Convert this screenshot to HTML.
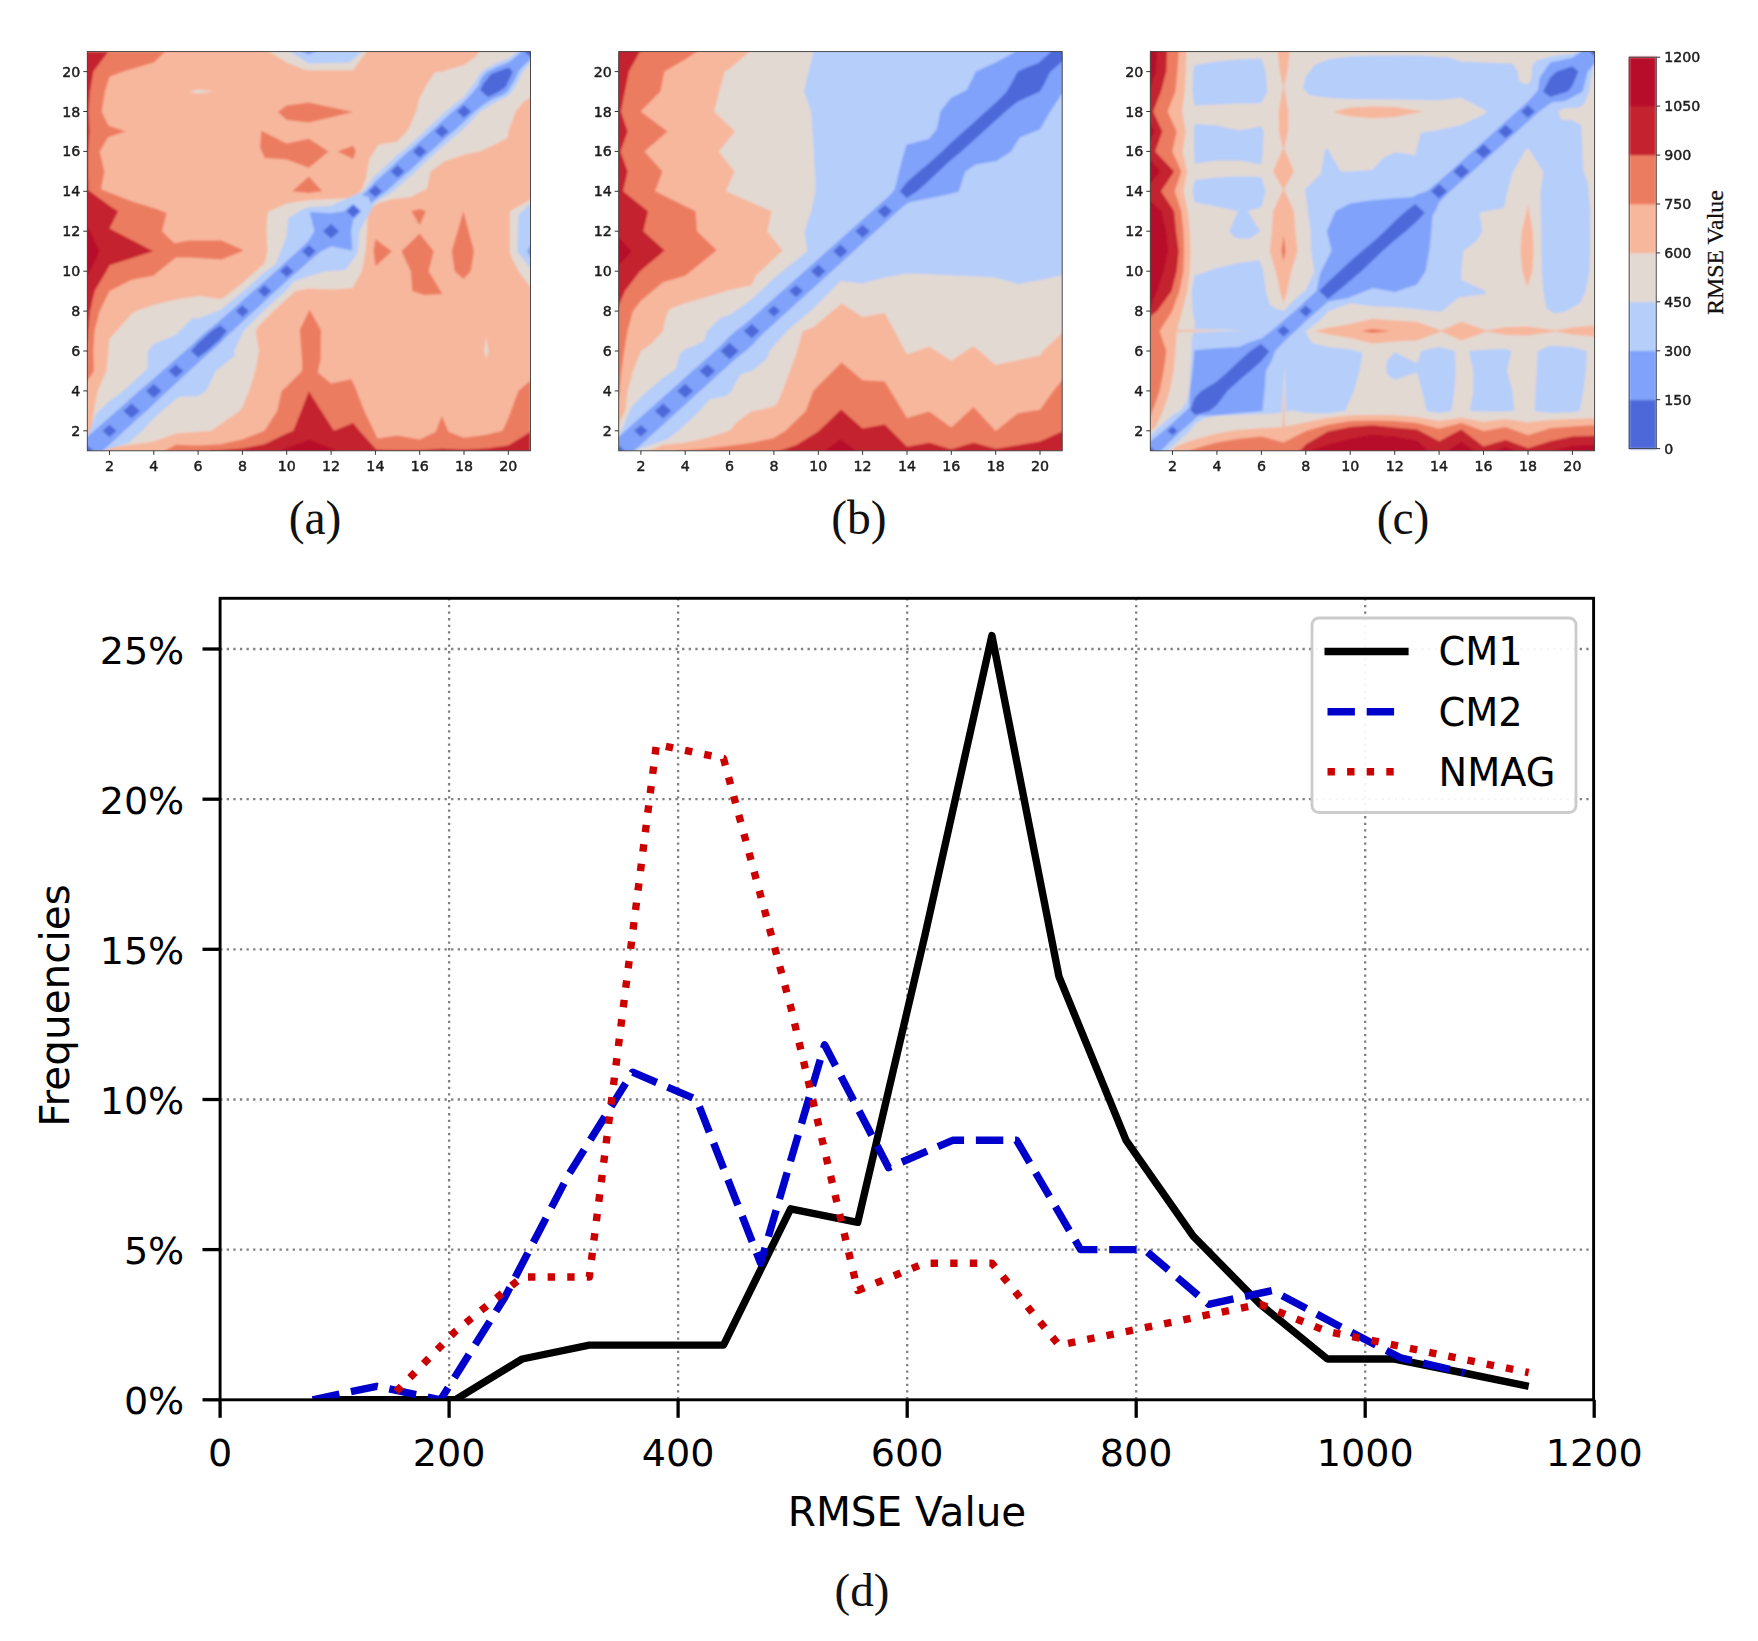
<!DOCTYPE html>
<html><head><meta charset="utf-8"><title>figure</title>
<style>
html,body{margin:0;padding:0;background:#fff;}
svg{display:block;}
.tk{font-family:"DejaVu Sans","Liberation Sans",sans-serif;font-size:14.2px;fill:#1c1c1c;stroke:#1c1c1c;stroke-width:0.45px;}
.cbl{font-family:"Liberation Serif","Times New Roman",serif;font-size:23.8px;fill:#111;stroke:#111;stroke-width:0.3px;}
.cap{font-family:"Liberation Serif","Times New Roman",serif;font-size:47.5px;fill:#111;}
.gr{stroke:#808080;stroke-width:2.3;stroke-dasharray:2.3 4.3;}
.dl{font-family:"DejaVu Sans","Liberation Sans",sans-serif;font-size:40.5px;fill:#000;}
.lg{font-family:"DejaVu Sans","Liberation Sans",sans-serif;font-size:38.3px;fill:#000;}
.cap2{font-family:"Liberation Serif","Times New Roman",serif;font-size:47px;fill:#111;}
.dt{font-family:"DejaVu Sans","Liberation Sans",sans-serif;font-size:38.1px;fill:#000;}
</style></head><body>
<svg width="1758" height="1641" viewBox="0 0 1758 1641">
<defs>
<filter id="soft" x="-2%" y="-2%" width="104%" height="104%"><feGaussianBlur stdDeviation="0.9"/></filter>
<filter id="soft2" x="-5%" y="-5%" width="110%" height="110%"><feGaussianBlur stdDeviation="0.45"/></filter>
</defs>
<rect width="1758" height="1641" fill="#fff"/>
<clipPath id="cpa"><rect x="87.3" y="51.6" width="443.2" height="399.2"/></clipPath>
<g clip-path="url(#cpa)"><g filter="url(#soft)">
<rect x="84.3" y="48.6" width="449.2" height="405.2" fill="#f7b79c"/>
<polygon fill="#ec7c60" points="87.3,51.6 165.3,51.6 153.8,62.6 123.4,71.6 109.5,76.7 105.0,91.5 101.7,111.5 108.4,125.5 125.9,131.4 108.4,137.0 99.7,151.4 104.4,171.4 101.0,189.3 131.6,201.3 157.3,209.3 166.6,212.9 162.0,231.2 174.4,243.2 188.8,240.6 221.6,240.4 244.0,250.6 221.6,259.4 188.8,257.4 175.9,257.4 158.7,271.2 153.6,275.8 131.6,279.7 109.5,291.1 99.7,311.1 94.6,331.0 93.3,351.0 93.9,371.0 87.3,380.9 85.1,380.9 85.1,51.6"/>
<polygon fill="#ec7c60" points="530.5,450.8 530.5,380.5 518.3,390.9 508.3,418.3 502.6,430.8 486.2,434.8 464.0,437.8 448.5,431.8 441.9,416.1 435.7,431.8 419.7,439.6 397.5,435.4 377.6,438.4 364.3,410.9 355.4,387.7 351.4,379.3 331.1,383.5 317.8,372.4 320.6,359.4 320.9,329.8 309.6,309.7 299.8,329.8 302.0,359.4 302.0,371.0 286.7,386.5 281.6,391.1 277.2,410.9 264.6,430.8 242.4,439.6 220.3,444.2 198.1,445.4 175.9,444.8 164.9,450.8 164.9,452.8 530.5,452.8"/>
<polygon fill="#ec7c60" points="277.9,112.1 286.7,105.5 308.9,102.5 353.2,112.1 308.9,122.5 286.7,119.9"/>
<polygon fill="#ec7c60" points="463.4,279.1 470.7,271.2 474.0,251.2 463.4,211.3 451.8,251.2 454.7,271.2"/>
<polygon fill="#ec7c60" points="260.1,147.4 261.3,130.8 286.7,143.4 308.9,138.8 328.6,151.4 308.9,167.8 286.7,159.4 264.6,158.0"/>
<polygon fill="#ec7c60" points="424.1,295.1 442.5,294.1 428.6,271.2 433.7,251.2 419.7,233.4 401.5,251.2 410.8,271.2 412.4,291.1"/>
<polygon fill="#ec7c60" points="337.7,151.4 353.2,145.8 355.9,151.4 353.2,159.0"/>
<polygon fill="#ec7c60" points="419.7,225.3 425.9,211.3 419.7,208.9 411.3,211.3"/>
<polygon fill="#ec7c60" points="292.3,191.3 308.9,176.4 322.2,191.3 308.9,192.9"/>
<polygon fill="#ec7c60" points="375.4,266.2 392.0,251.2 375.4,239.2 373.6,251.2"/>
<polygon fill="#c4222f" points="85.1,51.6 108.4,51.6 93.3,71.6 90.0,91.5 88.4,111.5 89.5,131.4 88.0,151.4 88.0,171.4 88.4,190.3 109.5,205.7 118.1,211.3 109.5,228.6 131.6,240.0 153.1,251.2 109.5,265.2 106.4,271.2 94.6,291.1 90.0,311.1 88.0,331.0 87.3,341.0 85.1,341.0"/>
<polygon fill="#c4222f" points="530.5,452.8 530.5,431.8 508.3,445.4 486.2,448.4 464.0,449.8 441.9,448.8 419.7,450.2 397.5,450.2 376.5,449.8 359.4,430.8 353.2,423.1 333.9,430.8 321.3,410.9 308.9,391.5 293.4,430.8 286.7,433.6 264.6,444.2 242.4,448.4 220.3,450.2 209.2,450.8 209.2,452.8"/>
<polygon fill="#b8112c" points="85.1,225.3 87.3,225.3 99.5,251.2 87.3,277.1 85.1,277.1"/>
<polygon fill="#b8112c" points="337.7,452.8 337.7,450.8 308.9,439.8 280.1,450.8 280.1,452.8"/>
<polygon fill="#e3d9d3" points="189.2,91.5 198.1,89.5 213.6,91.5 198.1,93.5"/>
<polygon fill="#e3d9d3" points="486.2,359.0 488.4,351.0 486.2,337.0 484.0,351.0"/>
<polygon fill="#e3d9d3" points="269.0,49.6 269.0,51.6 286.7,62.4 302.7,69.0 308.9,70.2 353.2,70.2 366.5,51.6 366.5,49.6"/>
<polygon fill="#e3d9d3" points="532.7,287.1 530.5,287.1 518.5,271.2 511.2,256.8 509.9,251.2 509.9,211.3 530.5,199.3 532.7,199.3"/>
<polygon fill="#b6cefa" points="289.6,49.6 289.6,51.6 308.9,63.6 349.5,62.4 362.1,51.6 362.1,49.6"/>
<polygon fill="#b6cefa" points="532.7,268.6 530.5,268.6 517.2,251.2 518.5,214.7 530.5,203.3 532.7,203.3"/>
<polygon fill="#80a2fa" points="302.3,49.6 302.3,51.6 308.9,54.6 315.5,51.6 315.5,49.6"/>
<polygon fill="#80a2fa" points="532.7,257.2 530.5,257.2 527.2,251.2 530.5,245.2 532.7,245.2"/>
<polygon fill="#e3d9d3" points="100.6,452.8 85.1,452.8 85.1,438.8 87.3,438.8 90.6,434.0 93.9,410.9 97.7,390.9 106.4,371.0 108.4,351.0 109.5,339.0 131.6,313.9 136.1,311.1 153.8,305.1 175.9,299.5 198.1,296.1 220.3,299.1 224.7,297.1 242.4,283.1 264.6,263.2 267.5,251.2 266.4,231.2 267.7,212.1 286.7,203.5 308.9,200.1 331.1,198.9 353.2,197.9 356.5,195.5 362.1,188.7 366.5,176.4 369.2,159.4 375.4,149.4 378.3,144.8 397.5,141.6 408.4,129.4 416.4,110.9 419.7,97.5 426.8,84.5 434.8,72.2 441.9,71.6 464.0,65.0 475.1,57.6 479.5,51.6 479.5,49.6 532.7,49.6 532.7,59.6"/>
<polygon fill="#e3d9d3" points="85.1,438.8 85.1,452.8 100.6,452.8 100.6,450.8 105.9,447.8 131.6,444.8 153.8,441.4 175.9,433.6 198.1,431.8 211.4,430.8 239.3,410.9 242.4,406.9 249.1,390.9 255.3,371.0 259.0,351.0 255.7,331.0 257.9,327.0 273.4,311.1 295.6,291.1 308.9,288.5 331.1,289.5 352.3,288.3 361.9,271.2 365.6,251.2 367.0,231.2 368.1,211.3 370.7,208.3 378.3,203.3 392.0,199.3 410.8,196.9 421.9,191.3 427.0,188.7 430.6,171.4 444.1,161.6 464.7,154.4 479.5,151.4 493.9,145.0 507.7,137.8 508.3,131.4 515.7,111.5 523.9,101.5 530.5,97.5 532.7,97.5 532.7,49.6 521.6,49.6"/>
<polygon fill="#b6cefa" points="100.6,452.8 85.1,452.8 85.1,436.8 87.3,436.8 96.2,413.5 109.5,401.3 124.1,390.3 131.6,383.3 147.4,368.4 147.8,351.0 153.8,344.0 175.9,335.0 192.8,317.9 198.1,318.5 220.3,310.1 242.4,292.1 264.6,272.2 275.7,264.2 286.7,236.6 288.1,218.3 302.9,209.3 309.8,206.9 330.2,205.9 343.9,200.1 353.2,195.5 358.8,193.3 363.2,191.3 375.4,175.0 379.8,171.4 397.5,154.6 402.0,151.4 419.7,135.6 424.1,131.4 441.9,114.7 445.2,111.5 464.0,96.5 474.7,82.7 480.4,72.8 486.2,68.2 497.9,62.4 508.3,58.4 515.0,53.6 518.1,51.6 518.1,49.6 532.7,49.6 532.7,59.6"/>
<polygon fill="#b6cefa" points="85.1,438.8 85.1,452.8 102.8,452.8 102.8,450.8 128.7,442.8 142.3,430.8 154.4,417.7 162.2,410.9 178.8,396.7 198.1,396.3 205.9,390.9 215.8,371.0 234.9,355.8 234.2,351.0 243.5,331.0 263.5,311.1 285.6,291.1 294.5,281.1 325.1,271.2 345.5,270.0 355.4,256.6 358.1,250.4 359.2,232.0 365.6,219.7 370.7,211.3 373.2,206.3 375.4,202.3 393.6,191.3 397.5,187.3 416.2,171.4 419.7,167.4 437.2,151.4 441.9,147.4 460.5,131.4 464.0,128.4 480.6,111.5 495.9,101.9 507.0,96.7 512.1,91.5 518.5,80.9 523.0,71.6 528.3,65.6 530.5,62.8 532.7,62.8 532.7,49.6 521.6,49.6"/>
<polygon fill="#80a2fa" points="100.6,452.8 85.1,452.8 85.1,439.2 87.3,439.2 96.6,430.8 109.5,418.9 118.3,410.9 131.6,397.7 139.2,390.9 153.8,379.3 163.1,371.0 175.9,360.4 186.4,351.0 198.1,339.0 207.0,331.0 220.3,321.7 232.0,311.1 242.4,301.1 253.5,291.1 264.6,281.7 276.3,271.2 286.7,261.2 297.8,251.2 308.9,240.2 314.4,231.2 309.8,212.1 331.1,213.3 344.4,211.3 353.2,204.1 361.2,211.3 357.7,215.3"/>
<polygon fill="#80a2fa" points="85.1,438.8 85.1,452.8 100.2,452.8 100.2,450.8 109.5,442.4 122.8,430.8 131.6,422.9 146.2,410.9 153.8,404.1 166.6,390.9 175.9,382.5 187.7,371.0 198.1,361.6 211.4,351.0 220.3,343.0 230.7,331.0 242.4,320.5 253.5,311.1 264.6,301.1 275.0,291.1 286.7,280.5 297.8,271.2 308.9,261.2 321.1,251.2 331.1,246.2 352.3,250.4 351.0,231.2 353.2,219.3 361.2,211.3 353.2,204.1 348.8,207.3"/>
<polygon fill="#80a2fa" points="370.9,203.3 366.5,191.3 375.4,181.5 386.7,171.4 397.5,161.2 408.4,151.4 419.7,141.6 431.0,131.4 441.9,121.3 452.7,111.5 464.0,101.7 472.4,93.1 478.2,85.5 481.7,77.5 486.2,72.2 497.9,66.4 508.3,62.4 517.0,56.6 523.9,51.6 523.9,49.6 532.7,49.6 530.5,59.6"/>
<polygon fill="#80a2fa" points="362.1,195.3 375.4,199.3 386.2,191.3 397.5,181.1 408.8,171.4 419.7,161.6 430.6,151.4 441.9,141.2 453.2,131.4 464.0,121.7 474.9,111.5 484.4,103.9 492.8,98.7 501.7,95.5 507.7,91.5 514.1,80.9 518.5,71.6 525.0,63.8 530.5,57.6 532.7,57.6 532.7,49.6 521.6,51.6"/>
<polygon fill="#4d69d9" points="81.3,450.8 87.3,445.4 93.3,450.8 87.3,456.2"/>
<polygon fill="#4d69d9" points="102.6,430.8 109.5,424.7 116.3,430.8 109.5,437.0"/>
<polygon fill="#4d69d9" points="123.4,410.9 131.6,403.5 139.8,410.9 131.6,418.3"/>
<polygon fill="#4d69d9" points="146.0,390.9 153.8,383.9 161.5,390.9 153.8,397.9"/>
<polygon fill="#4d69d9" points="168.6,371.0 175.9,364.4 183.3,371.0 175.9,377.5"/>
<polygon fill="#4d69d9" points="236.0,311.1 242.4,305.3 248.8,311.1 242.4,316.9"/>
<polygon fill="#4d69d9" points="257.9,291.1 264.6,285.1 271.2,291.1 264.6,297.1"/>
<polygon fill="#4d69d9" points="280.1,271.2 286.7,265.2 293.4,271.2 286.7,277.1"/>
<polygon fill="#4d69d9" points="302.0,251.2 308.9,245.0 315.8,251.2 308.9,257.4"/>
<polygon fill="#4d69d9" points="323.1,231.2 331.1,224.1 339.0,231.2 331.1,238.4"/>
<polygon fill="#4d69d9" points="346.6,211.3 353.2,205.3 359.9,211.3 353.2,217.3"/>
<polygon fill="#4d69d9" points="368.7,191.3 375.4,185.3 382.0,191.3 375.4,197.3"/>
<polygon fill="#4d69d9" points="390.7,171.4 397.5,165.2 404.4,171.4 397.5,177.5"/>
<polygon fill="#4d69d9" points="412.8,151.4 419.7,145.2 426.6,151.4 419.7,157.6"/>
<polygon fill="#4d69d9" points="435.0,131.4 441.9,125.3 448.7,131.4 441.9,137.6"/>
<polygon fill="#4d69d9" points="457.2,111.5 464.0,105.3 470.9,111.5 464.0,117.7"/>
<polygon fill="#4d69d9" points="524.5,51.6 530.5,46.2 536.5,51.6 530.5,57.0"/>
<polygon fill="#4d69d9" points="191.0,351.0 198.1,343.0 211.4,331.0 220.3,325.1 226.9,331.0 220.3,339.0 207.0,351.0 198.1,357.4"/>
<polygon fill="#4d69d9" points="480.0,89.9 484.0,82.7 491.1,74.0 508.3,67.6 512.8,71.6 505.7,87.1 495.9,93.5 488.0,97.1"/>
</g></g>
<rect x="87.3" y="51.6" width="443.2" height="399.2" fill="none" stroke="#3a3a3a" stroke-width="0.9"/>
<g filter="url(#soft2)">
<line x1="109.5" y1="450.8" x2="109.5" y2="454.8" stroke="#333" stroke-width="1"/>
<text x="109.5" y="471.0" class="tk" text-anchor="middle">2</text>
<line x1="83.3" y1="430.8" x2="87.3" y2="430.8" stroke="#333" stroke-width="1"/>
<text x="80.3" y="435.8" class="tk" text-anchor="end">2</text>
<line x1="153.8" y1="450.8" x2="153.8" y2="454.8" stroke="#333" stroke-width="1"/>
<text x="153.8" y="471.0" class="tk" text-anchor="middle">4</text>
<line x1="83.3" y1="390.9" x2="87.3" y2="390.9" stroke="#333" stroke-width="1"/>
<text x="80.3" y="395.9" class="tk" text-anchor="end">4</text>
<line x1="198.1" y1="450.8" x2="198.1" y2="454.8" stroke="#333" stroke-width="1"/>
<text x="198.1" y="471.0" class="tk" text-anchor="middle">6</text>
<line x1="83.3" y1="351.0" x2="87.3" y2="351.0" stroke="#333" stroke-width="1"/>
<text x="80.3" y="356.0" class="tk" text-anchor="end">6</text>
<line x1="242.4" y1="450.8" x2="242.4" y2="454.8" stroke="#333" stroke-width="1"/>
<text x="242.4" y="471.0" class="tk" text-anchor="middle">8</text>
<line x1="83.3" y1="311.1" x2="87.3" y2="311.1" stroke="#333" stroke-width="1"/>
<text x="80.3" y="316.1" class="tk" text-anchor="end">8</text>
<line x1="286.7" y1="450.8" x2="286.7" y2="454.8" stroke="#333" stroke-width="1"/>
<text x="286.7" y="471.0" class="tk" text-anchor="middle">10</text>
<line x1="83.3" y1="271.2" x2="87.3" y2="271.2" stroke="#333" stroke-width="1"/>
<text x="80.3" y="276.2" class="tk" text-anchor="end">10</text>
<line x1="331.1" y1="450.8" x2="331.1" y2="454.8" stroke="#333" stroke-width="1"/>
<text x="331.1" y="471.0" class="tk" text-anchor="middle">12</text>
<line x1="83.3" y1="231.2" x2="87.3" y2="231.2" stroke="#333" stroke-width="1"/>
<text x="80.3" y="236.2" class="tk" text-anchor="end">12</text>
<line x1="375.4" y1="450.8" x2="375.4" y2="454.8" stroke="#333" stroke-width="1"/>
<text x="375.4" y="471.0" class="tk" text-anchor="middle">14</text>
<line x1="83.3" y1="191.3" x2="87.3" y2="191.3" stroke="#333" stroke-width="1"/>
<text x="80.3" y="196.3" class="tk" text-anchor="end">14</text>
<line x1="419.7" y1="450.8" x2="419.7" y2="454.8" stroke="#333" stroke-width="1"/>
<text x="419.7" y="471.0" class="tk" text-anchor="middle">16</text>
<line x1="83.3" y1="151.4" x2="87.3" y2="151.4" stroke="#333" stroke-width="1"/>
<text x="80.3" y="156.4" class="tk" text-anchor="end">16</text>
<line x1="464.0" y1="450.8" x2="464.0" y2="454.8" stroke="#333" stroke-width="1"/>
<text x="464.0" y="471.0" class="tk" text-anchor="middle">18</text>
<line x1="83.3" y1="111.5" x2="87.3" y2="111.5" stroke="#333" stroke-width="1"/>
<text x="80.3" y="116.5" class="tk" text-anchor="end">18</text>
<line x1="508.3" y1="450.8" x2="508.3" y2="454.8" stroke="#333" stroke-width="1"/>
<text x="508.3" y="471.0" class="tk" text-anchor="middle">20</text>
<line x1="83.3" y1="71.6" x2="87.3" y2="71.6" stroke="#333" stroke-width="1"/>
<text x="80.3" y="76.6" class="tk" text-anchor="end">20</text>
</g>
<clipPath id="cpb"><rect x="618.7" y="51.6" width="443.5" height="399.2"/></clipPath>
<g clip-path="url(#cpb)"><g filter="url(#soft)">
<rect x="615.7" y="48.6" width="449.5" height="405.2" fill="#b6cefa"/>
<polygon fill="#e3d9d3" points="616.5,49.6 813.8,49.6 813.8,51.6 808.5,71.6 803.9,91.5 811.2,111.5 812.5,131.4 813.8,151.4 814.9,171.4 815.6,191.3 811.2,211.3 804.5,231.2 807.2,251.2 782.4,271.2 773.9,278.3 751.8,299.3 729.6,315.1 720.7,317.7 707.4,331.0 703.9,341.0 692.3,346.6 685.2,349.0 679.7,354.4 675.9,369.0 662.2,378.5 640.9,396.9 631.1,407.7 623.1,426.8 618.7,436.8 616.5,436.8"/>
<polygon fill="#e3d9d3" points="1064.4,452.8 1064.4,275.2 1062.2,275.2 1040.0,279.9 1017.9,284.1 995.7,277.5 973.5,276.3 951.3,275.2 929.2,274.2 907.0,273.6 884.8,277.5 862.6,283.5 840.5,281.1 818.3,303.5 810.3,311.1 787.0,331.0 769.5,351.0 766.6,359.0 751.8,371.0 740.7,374.2 734.5,384.5 731.8,390.9 725.8,395.9 709.6,399.3 699.0,411.7 678.6,430.8 666.6,439.6 645.3,446.8 634.2,450.8 634.2,452.8"/>
<polygon fill="#f7b79c" points="616.5,49.6 749.5,49.6 749.5,51.6 729.6,69.0 724.7,71.6 719.4,91.5 714.1,111.5 735.1,131.4 718.7,151.4 734.5,171.4 725.8,191.3 771.7,211.3 767.3,231.2 782.4,250.2 756.0,275.8 751.8,285.1 729.6,290.1 707.4,296.7 685.2,303.3 670.8,308.5 668.2,311.1 664.4,323.1 663.1,331.0 650.6,344.4 640.9,351.0 633.1,371.0 627.6,390.9 625.4,410.9 619.8,420.9 618.7,424.9 616.5,424.9"/>
<polygon fill="#f7b79c" points="1064.4,452.8 1064.4,333.0 1062.2,333.0 1042.9,351.0 1040.0,355.4 1017.9,360.2 995.7,365.0 973.5,346.0 951.3,360.8 929.2,346.6 907.0,354.4 884.8,313.1 862.6,317.1 841.6,303.5 813.2,327.2 802.8,331.0 797.2,351.0 789.9,371.0 782.6,390.9 776.8,403.9 773.9,406.3 760.6,409.7 751.8,410.9 736.9,422.1 729.6,430.8 707.4,437.8 685.2,442.8 663.1,444.8 652.0,449.8 647.5,450.8 647.5,452.8"/>
<polygon fill="#ec7c60" points="616.5,49.6 697.0,49.6 697.0,51.6 685.2,59.6 664.4,71.6 660.4,91.5 640.7,111.5 667.5,131.4 644.6,151.4 662.4,171.4 655.1,191.3 695.6,211.3 697.0,231.2 716.7,250.2 685.2,275.8 663.1,282.3 640.9,300.7 632.9,311.1 627.6,331.0 624.2,351.0 621.4,371.0 619.4,390.9 618.7,398.9 616.5,398.9"/>
<polygon fill="#ec7c60" points="1064.4,452.8 1064.4,380.3 1062.2,380.3 1053.3,390.9 1040.0,409.7 1017.9,413.3 995.7,431.0 973.5,406.9 951.3,427.4 929.2,411.5 907.0,418.1 884.8,381.5 862.6,380.3 841.6,362.6 813.2,390.9 805.9,410.9 785.5,430.8 773.9,438.0 751.8,442.8 729.6,445.8 707.4,448.4 685.2,450.2 676.4,450.8 676.4,452.8"/>
<polygon fill="#c4222f" points="616.5,49.6 640.0,49.6 640.0,51.6 628.9,71.6 624.9,91.5 620.9,111.5 627.6,131.4 620.5,151.4 627.6,171.4 623.1,191.3 648.0,211.3 643.3,231.2 664.6,250.6 640.0,271.2 624.9,291.1 619.8,303.1 618.7,307.1 616.5,307.1"/>
<polygon fill="#c4222f" points="1064.4,452.8 1064.4,431.6 1062.2,431.6 1040.0,441.6 1017.9,445.2 995.7,448.8 973.5,442.8 951.3,449.2 929.2,442.8 907.0,446.8 884.8,424.5 862.6,428.6 841.1,409.5 818.3,431.6 796.1,445.2 782.8,449.8 778.4,450.8 778.4,452.8"/>
<polygon fill="#b8112c" points="616.5,237.2 618.7,237.2 631.6,251.2 618.7,265.2 616.5,265.2"/>
<polygon fill="#b8112c" points="856.0,452.8 856.0,450.8 840.5,439.2 824.9,450.8 824.9,452.8"/>
<polygon fill="#80a2fa" points="632.0,452.8 616.5,452.8 616.5,437.8 618.7,437.8 626.5,430.8 640.9,417.9 648.6,410.9 663.1,397.9 670.8,390.9 685.2,377.9 693.0,371.0 707.4,358.4 715.6,351.0 729.6,336.6 735.8,331.0 751.8,319.1 760.6,311.1 773.9,300.7 784.6,291.1 796.1,280.3 806.3,271.2 818.3,260.0 828.0,251.2 840.5,240.8 851.1,231.2 862.6,220.9 873.3,211.3 884.8,201.9 894.8,189.3 901.2,163.2 906.5,144.8 928.7,139.0 936.7,129.4 940.7,110.9 951.3,97.7 966.8,89.9 975.9,71.6 995.7,62.4 1012.7,53.2 1015.6,51.6 1015.6,49.6 1064.4,49.6 1064.4,59.6"/>
<polygon fill="#80a2fa" points="616.5,438.8 616.5,452.8 633.1,452.8 633.1,450.8 640.9,443.8 655.3,430.8 663.1,423.9 677.5,410.9 685.2,403.9 699.6,390.9 707.4,383.9 721.4,371.0 729.6,363.6 745.5,351.0 751.8,345.4 765.1,331.0 773.9,323.1 785.5,311.1 796.1,301.5 808.1,291.1 818.3,281.9 830.7,271.2 840.5,262.4 852.0,251.2 862.6,241.6 874.2,231.2 884.8,221.7 895.2,211.3 909.2,202.3 938.2,196.5 958.6,191.7 965.1,171.8 975.7,164.6 996.3,161.0 1011.0,151.4 1019.6,137.4 1040.0,129.2 1050.2,111.5 1060.4,96.1 1062.2,93.5 1064.4,93.5 1064.4,49.6 1053.3,49.6"/>
<polygon fill="#4d69d9" points="612.7,450.8 618.7,445.4 624.7,450.8 618.7,456.2"/>
<polygon fill="#4d69d9" points="634.2,430.8 640.9,424.9 647.5,430.8 640.9,436.8"/>
<polygon fill="#4d69d9" points="654.8,410.9 663.1,403.5 671.3,410.9 663.1,418.3"/>
<polygon fill="#4d69d9" points="677.2,390.9 685.2,383.7 693.2,390.9 685.2,398.1"/>
<polygon fill="#4d69d9" points="699.6,371.0 707.4,364.0 715.2,371.0 707.4,377.9"/>
<polygon fill="#4d69d9" points="720.5,351.0 729.6,342.8 738.7,351.0 729.6,359.2"/>
<polygon fill="#4d69d9" points="743.8,331.0 751.8,323.9 759.7,331.0 751.8,338.2"/>
<polygon fill="#4d69d9" points="767.7,311.1 773.9,305.5 780.1,311.1 773.9,316.7"/>
<polygon fill="#4d69d9" points="789.2,291.1 796.1,284.9 803.0,291.1 796.1,297.3"/>
<polygon fill="#4d69d9" points="811.0,271.2 818.3,264.6 825.6,271.2 818.3,277.7"/>
<polygon fill="#4d69d9" points="833.1,251.2 840.5,244.6 847.8,251.2 840.5,257.8"/>
<polygon fill="#4d69d9" points="855.3,231.2 862.6,224.7 869.9,231.2 862.6,237.8"/>
<polygon fill="#4d69d9" points="877.5,211.3 884.8,204.7 892.1,211.3 884.8,217.9"/>
<polygon fill="#4d69d9" points="907.0,197.9 899.9,191.3 907.0,182.1 918.9,171.4 929.2,163.0 942.0,151.4 951.3,142.4 963.5,131.4 973.5,122.7 985.9,111.5 995.7,102.9 1006.8,91.5 1017.9,71.6 1026.7,67.6 1040.0,62.4 1052.0,51.6 1052.0,49.6 1064.4,49.6 1064.4,59.6"/>
<polygon fill="#4d69d9" points="899.7,191.3 907.0,197.7 917.2,191.3 929.2,180.5 938.5,171.4 951.3,159.8 961.3,151.4 973.5,140.4 983.3,131.4 995.7,120.3 1005.2,111.5 1017.9,101.5 1040.0,91.5 1044.5,83.5 1050.2,71.6 1062.2,60.8 1064.4,60.8 1064.4,49.6 1053.3,49.6"/>
</g></g>
<rect x="618.7" y="51.6" width="443.5" height="399.2" fill="none" stroke="#3a3a3a" stroke-width="0.9"/>
<g filter="url(#soft2)">
<line x1="640.9" y1="450.8" x2="640.9" y2="454.8" stroke="#333" stroke-width="1"/>
<text x="640.9" y="471.0" class="tk" text-anchor="middle">2</text>
<line x1="614.7" y1="430.8" x2="618.7" y2="430.8" stroke="#333" stroke-width="1"/>
<text x="611.7" y="435.8" class="tk" text-anchor="end">2</text>
<line x1="685.2" y1="450.8" x2="685.2" y2="454.8" stroke="#333" stroke-width="1"/>
<text x="685.2" y="471.0" class="tk" text-anchor="middle">4</text>
<line x1="614.7" y1="390.9" x2="618.7" y2="390.9" stroke="#333" stroke-width="1"/>
<text x="611.7" y="395.9" class="tk" text-anchor="end">4</text>
<line x1="729.6" y1="450.8" x2="729.6" y2="454.8" stroke="#333" stroke-width="1"/>
<text x="729.6" y="471.0" class="tk" text-anchor="middle">6</text>
<line x1="614.7" y1="351.0" x2="618.7" y2="351.0" stroke="#333" stroke-width="1"/>
<text x="611.7" y="356.0" class="tk" text-anchor="end">6</text>
<line x1="773.9" y1="450.8" x2="773.9" y2="454.8" stroke="#333" stroke-width="1"/>
<text x="773.9" y="471.0" class="tk" text-anchor="middle">8</text>
<line x1="614.7" y1="311.1" x2="618.7" y2="311.1" stroke="#333" stroke-width="1"/>
<text x="611.7" y="316.1" class="tk" text-anchor="end">8</text>
<line x1="818.3" y1="450.8" x2="818.3" y2="454.8" stroke="#333" stroke-width="1"/>
<text x="818.3" y="471.0" class="tk" text-anchor="middle">10</text>
<line x1="614.7" y1="271.2" x2="618.7" y2="271.2" stroke="#333" stroke-width="1"/>
<text x="611.7" y="276.2" class="tk" text-anchor="end">10</text>
<line x1="862.6" y1="450.8" x2="862.6" y2="454.8" stroke="#333" stroke-width="1"/>
<text x="862.6" y="471.0" class="tk" text-anchor="middle">12</text>
<line x1="614.7" y1="231.2" x2="618.7" y2="231.2" stroke="#333" stroke-width="1"/>
<text x="611.7" y="236.2" class="tk" text-anchor="end">12</text>
<line x1="907.0" y1="450.8" x2="907.0" y2="454.8" stroke="#333" stroke-width="1"/>
<text x="907.0" y="471.0" class="tk" text-anchor="middle">14</text>
<line x1="614.7" y1="191.3" x2="618.7" y2="191.3" stroke="#333" stroke-width="1"/>
<text x="611.7" y="196.3" class="tk" text-anchor="end">14</text>
<line x1="951.3" y1="450.8" x2="951.3" y2="454.8" stroke="#333" stroke-width="1"/>
<text x="951.3" y="471.0" class="tk" text-anchor="middle">16</text>
<line x1="614.7" y1="151.4" x2="618.7" y2="151.4" stroke="#333" stroke-width="1"/>
<text x="611.7" y="156.4" class="tk" text-anchor="end">16</text>
<line x1="995.7" y1="450.8" x2="995.7" y2="454.8" stroke="#333" stroke-width="1"/>
<text x="995.7" y="471.0" class="tk" text-anchor="middle">18</text>
<line x1="614.7" y1="111.5" x2="618.7" y2="111.5" stroke="#333" stroke-width="1"/>
<text x="611.7" y="116.5" class="tk" text-anchor="end">18</text>
<line x1="1040.0" y1="450.8" x2="1040.0" y2="454.8" stroke="#333" stroke-width="1"/>
<text x="1040.0" y="471.0" class="tk" text-anchor="middle">20</text>
<line x1="614.7" y1="71.6" x2="618.7" y2="71.6" stroke="#333" stroke-width="1"/>
<text x="611.7" y="76.6" class="tk" text-anchor="end">20</text>
</g>
<clipPath id="cpc"><rect x="1150.3" y="51.6" width="444.3" height="399.2"/></clipPath>
<g clip-path="url(#cpc)"><g filter="url(#soft)">
<rect x="1147.3" y="48.6" width="450.3" height="405.2" fill="#e3d9d3"/>
<polygon fill="#b6cefa" points="1148.1,452.8 1148.1,435.4 1150.3,435.4 1158.5,427.6 1172.5,415.1 1180.7,410.3 1186.5,401.5 1189.4,390.9 1190.3,371.0 1191.4,351.0 1191.8,339.0 1193.6,331.0 1195.2,323.1 1192.5,311.1 1191.8,291.1 1194.5,275.8 1216.9,268.0 1239.2,262.8 1259.4,260.0 1263.4,271.2 1265.8,291.1 1269.8,304.7 1276.9,309.1 1283.6,311.1 1294.7,299.3 1305.8,290.1 1314.5,271.2 1311.1,251.2 1310.5,231.2 1307.8,211.3 1305.1,189.3 1320.9,173.8 1324.9,150.0 1327.6,148.8 1340.7,171.4 1350.2,171.4 1372.4,169.8 1384.0,157.6 1394.7,152.4 1415.3,155.0 1418.0,143.4 1420.7,132.8 1439.1,130.0 1461.3,124.9 1483.5,114.5 1487.5,111.5 1461.3,97.7 1436.9,100.3 1394.7,99.5 1350.2,99.1 1328.0,97.7 1309.1,95.1 1303.4,88.5 1305.1,78.1 1314.5,65.0 1327.6,59.6 1350.2,56.4 1372.4,55.8 1416.9,55.6 1449.1,57.6 1461.3,61.6 1483.5,62.6 1512.4,63.6 1518.0,71.6 1519.1,81.5 1528.0,84.5 1531.3,79.5 1532.4,65.6 1536.8,60.6 1550.2,56.6 1572.4,53.6 1583.5,51.6 1583.5,49.6 1596.8,49.6 1596.8,49.6 1596.8,61.6 1594.6,61.6 1592.4,71.6 1589.0,91.5 1584.6,103.5 1579.0,107.5 1563.5,108.5 1557.9,111.5 1561.3,119.5 1572.4,120.5 1581.3,125.5 1582.4,151.4 1583.5,171.4 1587.9,182.3 1590.2,211.3 1589.9,251.2 1589.3,271.2 1585.7,291.5 1579.7,303.3 1565.1,311.7 1553.5,313.3 1546.2,308.1 1543.3,291.1 1541.7,271.2 1541.3,231.2 1540.4,193.3 1543.3,171.4 1528.0,147.8 1524.6,151.4 1513.1,171.4 1507.3,191.3 1504.2,207.9 1492.4,210.3 1479.5,212.7 1482.4,231.2 1476.6,240.8 1463.1,251.2 1461.3,271.2 1461.3,279.7 1486.4,291.5 1485.1,293.9 1458.6,297.5 1441.3,311.7 1416.9,309.3 1394.7,306.9 1372.4,306.3 1350.2,303.3 1329.1,311.1 1318.9,321.1 1305.8,331.0 1308.0,337.0 1312.9,343.4 1328.0,347.0 1350.2,349.2 1362.7,352.8 1359.6,371.0 1353.8,390.9 1345.1,411.1 1328.0,413.5 1305.8,412.9 1292.5,410.5 1283.6,411.9 1274.7,413.5 1261.4,413.9 1239.2,414.9 1216.9,415.7 1205.2,418.3 1195.4,423.5 1190.1,430.8 1176.1,443.4 1167.4,450.8 1167.4,452.8 1148.1,452.8"/>
<polygon fill="#b6cefa" points="1193.2,71.6 1194.7,65.0 1216.9,61.6 1239.2,59.6 1261.4,58.4 1265.8,71.6 1267.2,91.5 1261.4,102.9 1239.2,103.5 1216.9,104.5 1194.7,105.5 1192.5,91.5"/>
<polygon fill="#b6cefa" points="1572.4,412.3 1579.7,410.9 1583.5,390.9 1585.7,371.0 1587.0,351.0 1572.4,347.0 1550.2,345.8 1537.5,351.0 1536.8,371.0 1535.7,390.9 1534.6,410.9 1550.2,412.9"/>
<polygon fill="#b6cefa" points="1194.1,131.4 1194.7,123.9 1216.9,125.5 1239.2,130.4 1261.4,126.4 1263.8,131.4 1262.7,151.4 1261.4,164.6 1239.2,160.6 1216.9,160.6 1194.7,163.8 1194.1,151.4"/>
<polygon fill="#b6cefa" points="1505.7,411.5 1514.2,410.9 1512.4,390.9 1506.9,371.0 1511.3,351.0 1505.7,348.8 1483.5,349.8 1468.9,351.0 1473.3,371.0 1473.3,390.9 1469.8,410.9 1483.5,411.5"/>
<polygon fill="#b6cefa" points="1192.5,191.3 1194.7,180.1 1216.9,177.5 1239.2,176.4 1261.4,176.9 1265.8,191.3 1261.4,207.3 1247.6,211.3 1260.3,231.2 1250.3,238.4 1239.2,238.8 1234.7,237.2 1229.2,231.2 1237.8,211.3 1216.9,206.5 1194.7,202.5"/>
<polygon fill="#b6cefa" points="1439.1,412.9 1451.5,410.9 1454.4,390.9 1455.8,371.0 1455.1,351.0 1439.1,347.0 1421.3,351.0 1416.9,363.4 1394.7,352.0 1386.7,361.0 1386.2,371.0 1388.0,375.0 1394.7,379.9 1416.9,372.2 1422.2,390.9 1426.7,410.9"/>
<polygon fill="#e3d9d3" points="1174.7,328.6 1246.9,330.2 1174.7,333.4"/>
<polygon fill="#e3d9d3" points="1286.3,428.8 1284.5,364.0 1280.9,428.8"/>
<polygon fill="#f7b79c" points="1174.7,330.0 1221.4,330.6 1174.7,332.0"/>
<polygon fill="#f7b79c" points="1284.7,428.8 1284.0,386.9 1282.5,428.8"/>
<polygon fill="#f7b79c" points="1148.1,49.6 1186.5,49.6 1186.5,51.6 1185.8,71.6 1184.7,91.5 1182.1,111.5 1185.8,131.4 1182.7,151.4 1187.2,171.4 1183.4,191.3 1187.8,211.3 1189.8,231.2 1190.5,251.2 1189.8,271.2 1187.2,291.1 1182.1,311.1 1176.7,331.0 1175.4,351.0 1173.6,371.0 1169.6,390.9 1163.0,410.9 1155.6,426.8 1150.3,431.6 1148.1,431.6"/>
<polygon fill="#f7b79c" points="1596.8,452.8 1596.8,418.3 1594.6,418.3 1572.4,418.9 1550.2,419.9 1528.0,422.3 1505.7,418.9 1483.5,421.7 1461.3,417.7 1439.1,421.1 1416.9,417.1 1394.7,415.3 1372.4,414.7 1350.2,415.3 1328.0,417.7 1305.8,422.3 1283.6,427.0 1261.4,428.2 1239.2,429.8 1216.9,433.4 1194.7,439.4 1177.0,446.0 1171.6,450.8 1171.6,452.8"/>
<polygon fill="#ec7c60" points="1148.1,49.6 1178.7,49.6 1178.7,51.6 1177.4,71.6 1175.4,91.5 1167.6,111.5 1176.7,131.4 1172.3,151.4 1181.4,171.4 1174.7,191.3 1181.4,211.3 1183.4,231.2 1184.1,251.2 1183.4,271.2 1179.4,291.1 1172.3,311.1 1159.6,331.0 1166.3,351.0 1163.6,371.0 1159.6,390.9 1154.7,404.9 1150.3,415.9 1148.1,415.9"/>
<polygon fill="#ec7c60" points="1596.8,452.8 1596.8,425.3 1594.6,425.3 1572.4,426.4 1550.2,428.2 1528.0,435.2 1505.7,427.0 1483.5,431.0 1461.3,422.9 1439.1,428.8 1416.9,422.9 1394.7,421.1 1372.4,420.5 1350.2,421.1 1328.0,424.7 1305.8,431.0 1283.6,442.4 1261.4,436.4 1239.2,438.8 1216.9,442.4 1201.4,446.8 1189.2,450.8 1189.2,452.8"/>
<polygon fill="#c4222f" points="1148.1,49.6 1167.0,49.6 1167.0,51.6 1166.3,71.6 1161.0,91.5 1153.2,111.5 1162.3,131.4 1155.2,151.4 1174.1,171.4 1161.0,191.3 1174.1,211.3 1176.1,231.2 1178.7,251.2 1176.7,271.2 1171.6,291.1 1157.2,311.1 1151.9,315.1 1150.3,317.1 1148.1,317.1"/>
<polygon fill="#c4222f" points="1596.8,452.8 1596.8,435.8 1594.6,435.8 1572.4,436.4 1550.2,441.2 1528.0,448.2 1505.7,440.0 1483.5,446.4 1461.3,429.4 1439.1,441.2 1416.9,429.4 1394.7,427.6 1372.4,425.3 1350.2,427.0 1328.0,431.6 1305.8,444.6 1301.4,449.4 1299.1,450.8 1299.1,452.8"/>
<polygon fill="#b8112c" points="1148.1,201.3 1150.3,201.3 1161.4,211.3 1166.3,231.2 1168.1,251.2 1163.6,271.2 1157.0,291.1 1150.3,307.1 1148.1,307.1"/>
<polygon fill="#b8112c" points="1428.0,452.8 1428.0,450.8 1416.9,440.8 1394.7,436.4 1372.4,434.8 1350.2,438.8 1328.0,444.8 1310.2,450.8 1310.2,452.8"/>
<polygon fill="#b8112c" points="1148.1,159.4 1150.3,159.4 1160.3,171.4 1150.3,183.3 1148.1,183.3"/>
<polygon fill="#b8112c" points="1474.6,452.8 1474.6,450.8 1461.3,441.8 1448.0,450.8 1448.0,452.8"/>
<polygon fill="#b8112c" points="1148.1,123.5 1150.3,123.5 1154.7,131.4 1150.3,139.4 1148.1,139.4"/>
<polygon fill="#b8112c" points="1514.6,452.8 1514.6,450.8 1505.7,446.8 1496.9,450.8 1496.9,452.8"/>
<polygon fill="#b8112c" points="1148.1,49.6 1157.0,49.6 1157.0,51.6 1155.9,71.6 1150.3,87.5 1148.1,87.5"/>
<polygon fill="#b8112c" points="1596.8,452.8 1596.8,444.8 1594.6,444.8 1572.4,445.8 1554.6,450.8 1554.6,452.8"/>
<polygon fill="#f7b79c" points="1276.9,49.6 1277.4,51.6 1279.8,71.6 1283.1,86.5 1278.7,111.5 1279.1,131.4 1282.9,148.4 1273.1,171.4 1283.1,189.3 1273.1,211.3 1271.8,231.2 1269.8,251.2 1275.8,271.2 1280.0,291.1 1283.6,303.3 1283.6,303.3 1287.1,291.1 1291.4,271.2 1297.4,251.2 1295.4,231.2 1294.0,211.3 1284.0,189.3 1294.0,171.4 1284.3,148.4 1288.0,131.4 1288.5,111.5 1284.0,86.5 1287.4,71.6 1289.8,51.6 1290.3,49.6"/>
<polygon fill="#f7b79c" points="1596.8,337.0 1594.6,336.6 1572.4,334.4 1555.7,331.4 1528.0,335.4 1505.7,335.0 1486.9,331.6 1461.3,340.4 1441.3,331.4 1416.9,340.4 1394.7,341.6 1372.4,343.4 1350.2,338.0 1328.0,334.2 1314.5,331.0 1314.5,331.0 1328.0,327.8 1350.2,324.1 1372.4,318.7 1394.7,320.5 1416.9,321.7 1441.3,330.6 1461.3,321.7 1486.9,330.4 1505.7,327.0 1528.0,326.6 1555.7,330.6 1572.4,327.6 1594.6,325.5 1596.8,325.1"/>
<polygon fill="#ec7c60" points="1283.6,235.2 1285.8,251.2 1283.6,261.2 1281.4,251.2"/>
<polygon fill="#ec7c60" points="1390.2,331.0 1372.4,329.0 1361.3,331.0 1372.4,333.0"/>
<polygon fill="#f7b79c" points="1332.7,112.1 1350.2,107.5 1372.4,106.5 1394.7,107.1 1423.5,111.5 1394.7,117.1 1372.4,118.3 1350.2,116.5"/>
<polygon fill="#f7b79c" points="1527.3,286.9 1532.4,271.2 1533.5,251.2 1532.8,231.2 1528.0,205.3 1521.7,231.2 1520.4,251.2 1522.4,271.2"/>
<polygon fill="#80a2fa" points="1148.1,452.8 1148.1,441.2 1150.3,441.2 1156.5,436.4 1172.5,422.9 1189.4,407.5 1189.8,390.9 1192.5,371.0 1194.5,350.2 1216.9,348.2 1239.2,347.0 1250.3,342.0 1261.4,338.6 1271.4,331.0 1283.6,320.5 1294.7,311.1 1305.8,300.7 1316.5,291.1 1320.2,273.2 1331.6,250.8 1326.9,231.2 1335.4,211.3 1350.2,203.5 1372.4,200.3 1394.7,198.3 1412.4,197.3 1418.0,194.3 1426.9,191.3 1439.1,181.3 1450.2,171.4 1461.3,161.4 1472.4,151.4 1483.5,141.4 1494.6,131.4 1505.7,121.5 1516.8,111.5 1528.0,101.5 1538.2,89.9 1539.5,78.1 1550.2,62.4 1572.4,57.8 1578.8,53.2 1581.3,51.6 1581.3,49.6 1596.8,49.6 1596.8,49.6 1596.8,63.6 1594.6,63.6 1592.8,65.8 1587.7,71.6 1582.6,91.5 1565.1,101.1 1551.9,102.3 1539.1,111.5 1528.0,121.5 1516.8,131.4 1505.7,141.4 1494.6,151.4 1483.5,161.4 1472.4,171.4 1461.3,181.3 1450.2,191.3 1439.1,202.3 1435.8,210.3 1432.4,215.3 1431.3,231.2 1429.1,251.2 1425.5,271.2 1416.9,284.5 1394.7,292.1 1372.9,287.9 1348.0,298.1 1328.0,301.5 1317.4,311.1 1305.8,321.1 1295.4,331.0 1283.6,342.0 1275.1,351.0 1271.4,361.0 1265.8,371.0 1264.5,390.9 1262.3,411.1 1239.2,412.9 1216.9,415.3 1198.5,415.7 1181.4,430.8 1166.3,445.2 1161.0,450.8 1161.0,452.8 1148.1,452.8"/>
<polygon fill="#4d69d9" points="1145.9,450.8 1150.3,446.8 1154.7,450.8 1150.3,454.8"/>
<polygon fill="#4d69d9" points="1167.6,430.8 1172.5,426.4 1177.4,430.8 1172.5,435.2"/>
<polygon fill="#4d69d9" points="1190.3,410.3 1194.7,397.7 1201.4,390.9 1216.9,381.5 1228.7,371.0 1239.2,361.0 1250.3,351.0 1260.9,343.8 1269.4,351.4 1261.4,361.0 1250.3,371.0 1239.2,380.3 1227.4,390.9 1216.9,404.9 1209.4,410.9 1195.4,414.9"/>
<polygon fill="#4d69d9" points="1277.4,331.0 1283.6,325.5 1289.8,331.0 1283.6,336.6"/>
<polygon fill="#4d69d9" points="1299.6,311.1 1305.8,305.5 1312.0,311.1 1305.8,316.7"/>
<polygon fill="#4d69d9" points="1319.1,291.1 1328.0,282.1 1339.6,271.2 1350.2,261.2 1361.8,251.2 1372.4,242.4 1384.7,231.2 1394.7,221.3 1405.8,211.3 1415.3,204.1 1424.9,212.7 1416.9,221.3 1405.8,231.2 1394.7,240.2 1382.2,251.2 1372.4,260.8 1361.3,271.2 1350.2,280.7 1338.0,291.1 1328.0,299.1"/>
<polygon fill="#4d69d9" points="1431.1,191.3 1439.1,184.1 1447.1,191.3 1439.1,198.5"/>
<polygon fill="#4d69d9" points="1453.3,171.4 1461.3,164.2 1469.3,171.4 1461.3,178.5"/>
<polygon fill="#4d69d9" points="1475.5,151.4 1483.5,144.2 1491.5,151.4 1483.5,158.6"/>
<polygon fill="#4d69d9" points="1498.2,131.4 1505.7,124.7 1513.3,131.4 1505.7,138.2"/>
<polygon fill="#4d69d9" points="1521.1,111.5 1528.0,105.3 1534.8,111.5 1528.0,117.7"/>
<polygon fill="#4d69d9" points="1543.1,91.5 1550.2,97.1 1567.9,91.5 1572.4,85.5 1578.4,71.6 1572.4,66.2 1556.8,71.6 1550.2,77.5"/>
<polygon fill="#4d69d9" points="1589.7,51.6 1594.6,47.2 1599.5,51.6 1594.6,56.0"/>
</g></g>
<rect x="1150.3" y="51.6" width="444.3" height="399.2" fill="none" stroke="#3a3a3a" stroke-width="0.9"/>
<g filter="url(#soft2)">
<line x1="1172.5" y1="450.8" x2="1172.5" y2="454.8" stroke="#333" stroke-width="1"/>
<text x="1172.5" y="471.0" class="tk" text-anchor="middle">2</text>
<line x1="1146.3" y1="430.8" x2="1150.3" y2="430.8" stroke="#333" stroke-width="1"/>
<text x="1143.3" y="435.8" class="tk" text-anchor="end">2</text>
<line x1="1216.9" y1="450.8" x2="1216.9" y2="454.8" stroke="#333" stroke-width="1"/>
<text x="1216.9" y="471.0" class="tk" text-anchor="middle">4</text>
<line x1="1146.3" y1="390.9" x2="1150.3" y2="390.9" stroke="#333" stroke-width="1"/>
<text x="1143.3" y="395.9" class="tk" text-anchor="end">4</text>
<line x1="1261.4" y1="450.8" x2="1261.4" y2="454.8" stroke="#333" stroke-width="1"/>
<text x="1261.4" y="471.0" class="tk" text-anchor="middle">6</text>
<line x1="1146.3" y1="351.0" x2="1150.3" y2="351.0" stroke="#333" stroke-width="1"/>
<text x="1143.3" y="356.0" class="tk" text-anchor="end">6</text>
<line x1="1305.8" y1="450.8" x2="1305.8" y2="454.8" stroke="#333" stroke-width="1"/>
<text x="1305.8" y="471.0" class="tk" text-anchor="middle">8</text>
<line x1="1146.3" y1="311.1" x2="1150.3" y2="311.1" stroke="#333" stroke-width="1"/>
<text x="1143.3" y="316.1" class="tk" text-anchor="end">8</text>
<line x1="1350.2" y1="450.8" x2="1350.2" y2="454.8" stroke="#333" stroke-width="1"/>
<text x="1350.2" y="471.0" class="tk" text-anchor="middle">10</text>
<line x1="1146.3" y1="271.2" x2="1150.3" y2="271.2" stroke="#333" stroke-width="1"/>
<text x="1143.3" y="276.2" class="tk" text-anchor="end">10</text>
<line x1="1394.7" y1="450.8" x2="1394.7" y2="454.8" stroke="#333" stroke-width="1"/>
<text x="1394.7" y="471.0" class="tk" text-anchor="middle">12</text>
<line x1="1146.3" y1="231.2" x2="1150.3" y2="231.2" stroke="#333" stroke-width="1"/>
<text x="1143.3" y="236.2" class="tk" text-anchor="end">12</text>
<line x1="1439.1" y1="450.8" x2="1439.1" y2="454.8" stroke="#333" stroke-width="1"/>
<text x="1439.1" y="471.0" class="tk" text-anchor="middle">14</text>
<line x1="1146.3" y1="191.3" x2="1150.3" y2="191.3" stroke="#333" stroke-width="1"/>
<text x="1143.3" y="196.3" class="tk" text-anchor="end">14</text>
<line x1="1483.5" y1="450.8" x2="1483.5" y2="454.8" stroke="#333" stroke-width="1"/>
<text x="1483.5" y="471.0" class="tk" text-anchor="middle">16</text>
<line x1="1146.3" y1="151.4" x2="1150.3" y2="151.4" stroke="#333" stroke-width="1"/>
<text x="1143.3" y="156.4" class="tk" text-anchor="end">16</text>
<line x1="1528.0" y1="450.8" x2="1528.0" y2="454.8" stroke="#333" stroke-width="1"/>
<text x="1528.0" y="471.0" class="tk" text-anchor="middle">18</text>
<line x1="1146.3" y1="111.5" x2="1150.3" y2="111.5" stroke="#333" stroke-width="1"/>
<text x="1143.3" y="116.5" class="tk" text-anchor="end">18</text>
<line x1="1572.4" y1="450.8" x2="1572.4" y2="454.8" stroke="#333" stroke-width="1"/>
<text x="1572.4" y="471.0" class="tk" text-anchor="middle">20</text>
<line x1="1146.3" y1="71.6" x2="1150.3" y2="71.6" stroke="#333" stroke-width="1"/>
<text x="1143.3" y="76.6" class="tk" text-anchor="end">20</text>
</g>
<g filter="url(#soft)">
<rect x="1629.2" y="399.7" width="27.0" height="49.2" fill="#4d69d9"/>
<rect x="1629.2" y="350.8" width="27.0" height="49.2" fill="#80a2fa"/>
<rect x="1629.2" y="301.8" width="27.0" height="49.2" fill="#b6cefa"/>
<rect x="1629.2" y="252.9" width="27.0" height="49.2" fill="#e3d9d3"/>
<rect x="1629.2" y="204.0" width="27.0" height="49.2" fill="#f7b79c"/>
<rect x="1629.2" y="155.1" width="27.0" height="49.2" fill="#ec7c60"/>
<rect x="1629.2" y="106.1" width="27.0" height="49.2" fill="#c4222f"/>
<rect x="1629.2" y="57.2" width="27.0" height="49.2" fill="#b8112c"/>
</g>
<rect x="1629.2" y="57.2" width="27.0" height="391.4" fill="none" stroke="#3a3a3a" stroke-width="0.9"/>
<g filter="url(#soft2)">
<line x1="1656.2" y1="448.6" x2="1660.2" y2="448.6" stroke="#333" stroke-width="1"/>
<text x="1664.2" y="453.6" class="tk">0</text>
<line x1="1656.2" y1="399.7" x2="1660.2" y2="399.7" stroke="#333" stroke-width="1"/>
<text x="1664.2" y="404.7" class="tk">150</text>
<line x1="1656.2" y1="350.8" x2="1660.2" y2="350.8" stroke="#333" stroke-width="1"/>
<text x="1664.2" y="355.8" class="tk">300</text>
<line x1="1656.2" y1="301.8" x2="1660.2" y2="301.8" stroke="#333" stroke-width="1"/>
<text x="1664.2" y="306.8" class="tk">450</text>
<line x1="1656.2" y1="252.9" x2="1660.2" y2="252.9" stroke="#333" stroke-width="1"/>
<text x="1664.2" y="257.9" class="tk">600</text>
<line x1="1656.2" y1="204.0" x2="1660.2" y2="204.0" stroke="#333" stroke-width="1"/>
<text x="1664.2" y="209.0" class="tk">750</text>
<line x1="1656.2" y1="155.1" x2="1660.2" y2="155.1" stroke="#333" stroke-width="1"/>
<text x="1664.2" y="160.1" class="tk">900</text>
<line x1="1656.2" y1="106.1" x2="1660.2" y2="106.1" stroke="#333" stroke-width="1"/>
<text x="1664.2" y="111.1" class="tk">1050</text>
<line x1="1656.2" y1="57.2" x2="1660.2" y2="57.2" stroke="#333" stroke-width="1"/>
<text x="1664.2" y="62.2" class="tk">1200</text>
</g>
<text transform="translate(1722.5,252.5) rotate(-90)" text-anchor="middle" class="cbl">RMSE Value</text>
<text x="315" y="534" text-anchor="middle" class="cap">(a)</text>
<text x="859" y="534" text-anchor="middle" class="cap">(b)</text>
<text x="1403" y="534" text-anchor="middle" class="cap">(c)</text>
<rect x="220.1" y="598.3" width="1373.5" height="801.5" fill="#fff"/>
<line x1="449.1" y1="598.3" x2="449.1" y2="1399.8" class="gr"/>
<line x1="678.1" y1="598.3" x2="678.1" y2="1399.8" class="gr"/>
<line x1="907.2" y1="598.3" x2="907.2" y2="1399.8" class="gr"/>
<line x1="1136.2" y1="598.3" x2="1136.2" y2="1399.8" class="gr"/>
<line x1="1365.2" y1="598.3" x2="1365.2" y2="1399.8" class="gr"/>
<line x1="220.1" y1="1249.6" x2="1593.6" y2="1249.6" class="gr"/>
<line x1="220.1" y1="1099.5" x2="1593.6" y2="1099.5" class="gr"/>
<line x1="220.1" y1="949.3" x2="1593.6" y2="949.3" class="gr"/>
<line x1="220.1" y1="799.2" x2="1593.6" y2="799.2" class="gr"/>
<line x1="220.1" y1="649.0" x2="1593.6" y2="649.0" class="gr"/>
<clipPath id="cpd"><rect x="220.1" y="598.3" width="1373.5" height="801.2"/></clipPath><g clip-path="url(#cpd)">
<polyline points="320.9,1399.8 388.0,1399.8 455.1,1399.8 522.2,1359.0 589.3,1345.1 656.4,1345.1 723.5,1345.1 790.6,1208.8 857.7,1222.3 924.8,935.8 991.9,635.5 1059.0,976.7 1126.1,1140.3 1193.2,1236.1 1260.3,1304.3 1327.4,1359.0 1394.5,1359.0 1461.6,1372.5 1528.7,1386.3" fill="none" stroke="#000" stroke-width="7.4" stroke-linejoin="round"/>
<polyline points="312.6,1399.8 376.6,1386.3 440.6,1399.8 504.6,1297.7 568.6,1174.6 632.6,1072.2 696.6,1099.5 760.6,1263.2 824.6,1044.8 888.6,1167.7 952.6,1140.3 1016.6,1140.3 1080.6,1249.6 1144.6,1249.6 1208.6,1304.3 1272.6,1290.5 1336.6,1324.7 1400.6,1357.8 1464.6,1372.8" fill="none" stroke="#0000cd" stroke-width="7.4" stroke-dasharray="27.4 11.8" stroke-linejoin="round"/>
<polyline points="388.0,1399.8 455.1,1331.6 522.2,1277.0 589.3,1277.0 656.4,744.5 723.5,758.4 790.6,1006.4 857.7,1290.5 924.8,1263.2 991.9,1263.2 1059.0,1345.1 1126.1,1331.6 1193.2,1317.8 1260.3,1304.3 1327.4,1331.6 1394.5,1345.1 1461.6,1359.0 1528.7,1372.5" fill="none" stroke="#cc0000" stroke-width="7.4" stroke-dasharray="7.4 12.2" stroke-dashoffset="8" stroke-linejoin="round"/>
</g>
<rect x="220.1" y="598.3" width="1373.5" height="801.5" fill="none" stroke="#000" stroke-width="2.9"/>
<line x1="220.1" y1="1399.8" x2="220.1" y2="1417.8" stroke="#000" stroke-width="3.3"/>
<text x="220.1" y="1465.5" text-anchor="middle" class="dt">0</text>
<line x1="449.1" y1="1399.8" x2="449.1" y2="1417.8" stroke="#000" stroke-width="3.3"/>
<text x="449.1" y="1465.5" text-anchor="middle" class="dt">200</text>
<line x1="678.1" y1="1399.8" x2="678.1" y2="1417.8" stroke="#000" stroke-width="3.3"/>
<text x="678.1" y="1465.5" text-anchor="middle" class="dt">400</text>
<line x1="907.2" y1="1399.8" x2="907.2" y2="1417.8" stroke="#000" stroke-width="3.3"/>
<text x="907.2" y="1465.5" text-anchor="middle" class="dt">600</text>
<line x1="1136.2" y1="1399.8" x2="1136.2" y2="1417.8" stroke="#000" stroke-width="3.3"/>
<text x="1136.2" y="1465.5" text-anchor="middle" class="dt">800</text>
<line x1="1365.2" y1="1399.8" x2="1365.2" y2="1417.8" stroke="#000" stroke-width="3.3"/>
<text x="1365.2" y="1465.5" text-anchor="middle" class="dt">1000</text>
<line x1="1594.2" y1="1399.8" x2="1594.2" y2="1417.8" stroke="#000" stroke-width="3.3"/>
<text x="1594.2" y="1465.5" text-anchor="middle" class="dt">1200</text>
<line x1="202.5" y1="1399.8" x2="220.1" y2="1399.8" stroke="#000" stroke-width="3.3"/>
<text x="184.3" y="1414.3" text-anchor="end" class="dt">0%</text>
<line x1="202.5" y1="1249.6" x2="220.1" y2="1249.6" stroke="#000" stroke-width="3.3"/>
<text x="184.3" y="1264.1" text-anchor="end" class="dt">5%</text>
<line x1="202.5" y1="1099.5" x2="220.1" y2="1099.5" stroke="#000" stroke-width="3.3"/>
<text x="184.3" y="1114.0" text-anchor="end" class="dt">10%</text>
<line x1="202.5" y1="949.3" x2="220.1" y2="949.3" stroke="#000" stroke-width="3.3"/>
<text x="184.3" y="963.8" text-anchor="end" class="dt">15%</text>
<line x1="202.5" y1="799.2" x2="220.1" y2="799.2" stroke="#000" stroke-width="3.3"/>
<text x="184.3" y="813.7" text-anchor="end" class="dt">20%</text>
<line x1="202.5" y1="649.0" x2="220.1" y2="649.0" stroke="#000" stroke-width="3.3"/>
<text x="184.3" y="663.5" text-anchor="end" class="dt">25%</text>
<text x="907" y="1525.5" text-anchor="middle" class="dl">RMSE Value</text>
<text transform="translate(69,1005.5) rotate(-90)" text-anchor="middle" class="dl">Frequencies</text>
<rect x="1312" y="618" width="264" height="194.5" rx="7" ry="7" fill="#fff" fill-opacity="0.92" stroke="#cccccc" stroke-width="2.9"/>
<line x1="1324.5" y1="651.5" x2="1408.6" y2="651.5" stroke="#000" stroke-width="7.4"/>
<line x1="1327.5" y1="711.8" x2="1396" y2="711.8" stroke="#0000cd" stroke-width="7.4" stroke-dasharray="27.4 11.8"/>
<line x1="1327.5" y1="771.8" x2="1396" y2="771.8" stroke="#cc0000" stroke-width="7.4" stroke-dasharray="7.4 12.2"/>
<text x="1438.5" y="665.4" class="lg">CM1</text>
<text x="1438.5" y="726" class="lg">CM2</text>
<text x="1438.5" y="785.5" class="lg">NMAG</text>
<text x="862" y="1606" text-anchor="middle" class="cap2">(d)</text>
</svg>
</body></html>
